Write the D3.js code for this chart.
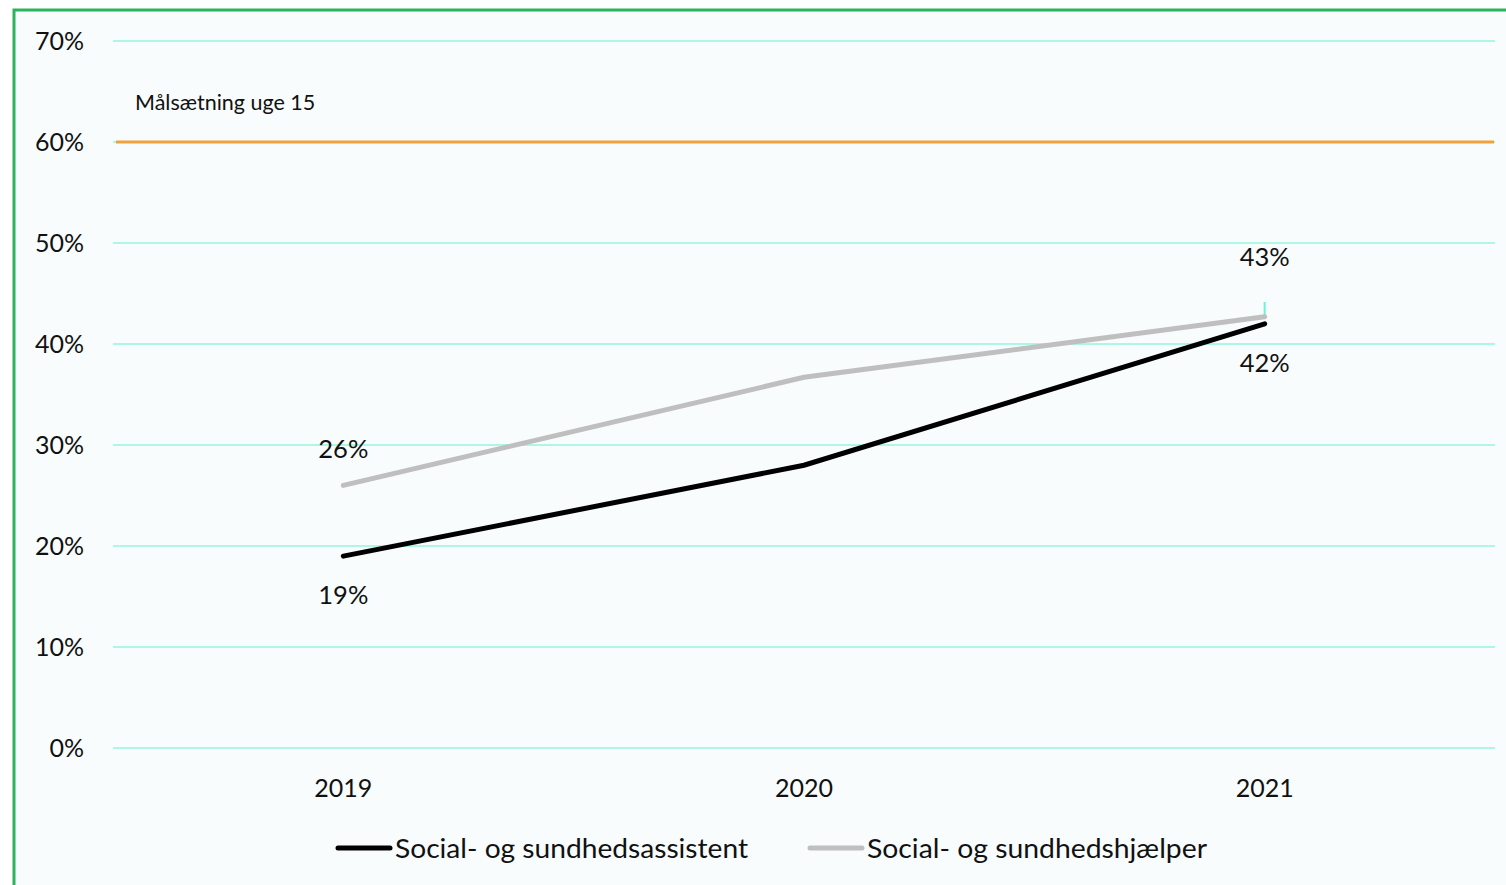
<!DOCTYPE html>
<meta charset="utf-8">
<head>
<style>
body { margin: 0; background: #fff; }
svg text { font-family: "Source Sans Pro", Lato, "Noto Sans", sans-serif; fill: #111; }
.grid line { stroke: #aef7e4; stroke-width: 2; }
</style>
</head>
<body>
<script src="https://cdn.jsdelivr.net/npm/d3@7"></script>
<script>

var years = ["2019", "2020", "2021"];
var assistent = [19, 28, 42];
var hjaelper = [26, 36.7, 42.7];
var yTicks = [0, 10, 20, 30, 40, 50, 60, 70];
var target = 60;
var seriesNames = ["Social- og sundhedsassistent", "Social- og sundhedshjælper"];

var width = 1506, height = 885;

var svg = d3.select("body").append("svg")
    .attr("width", width)
    .attr("height", height);

// panel background + green frame (top and left)
svg.append("rect")
    .attr("x", 13).attr("y", 9)
    .attr("width", width - 13).attr("height", height - 9)
    .attr("fill", "#f8fcfd");
svg.append("path")
    .attr("d", "M14," + height + "V10H" + width)
    .attr("fill", "none")
    .attr("stroke", "#2db35d")
    .attr("stroke-width", 3);

var x = d3.scalePoint()
    .domain(years)
    .range([113, 1495])
    .padding(0.5);

var y = d3.scaleLinear()
    .domain([0, 70])
    .range([748, 41]);

var grid = svg.append("g").attr("class", "grid");
grid.selectAll("line")
    .data(yTicks)
    .enter().append("line")
    .attr("x1", 113).attr("x2", 1495)
    .attr("y1", function(d) { return y(d); })
    .attr("y2", function(d) { return y(d); });

svg.append("g").selectAll("text")
    .data(yTicks)
    .enter().append("text")
    .attr("x", 84)
    .attr("y", function(d) { return y(d); })
    .attr("dy", ".35em")
    .attr("text-anchor", "end")
    .style("font-size", "25px")
    .text(function(d) { return d + "%"; });

svg.append("g").selectAll("text")
    .data(years)
    .enter().append("text")
    .attr("x", function(d) { return x(d); })
    .attr("y", 788)
    .attr("dy", ".35em")
    .attr("text-anchor", "middle")
    .style("font-size", "25px")
    .text(function(d) { return d; });

// target line
svg.append("line")
    .attr("x1", 116).attr("x2", 1494)
    .attr("y1", y(target)).attr("y2", y(target))
    .attr("stroke", "#f0a03c")
    .attr("stroke-width", 3);
svg.append("text")
    .attr("x", 135).attr("y", 102)
    .attr("dy", ".35em")
    .style("font-size", "21.5px")
    .text("Målsætning uge 15");

// small leader tick at last label
svg.append("line")
    .attr("x1", x("2021")).attr("x2", x("2021"))
    .attr("y1", 302).attr("y2", y(hjaelper[2]))
    .attr("stroke", "#6ff0d8")
    .attr("stroke-width", 2);

var line = d3.line()
    .x(function(d, i) { return x(years[i]); })
    .y(function(d) { return y(d); });

svg.append("path")
    .datum(hjaelper)
    .attr("d", line)
    .attr("fill", "none")
    .attr("stroke", "#bfbfbf")
    .attr("stroke-width", 5)
    .attr("stroke-linecap", "round");

svg.append("path")
    .datum(assistent)
    .attr("d", line)
    .attr("fill", "none")
    .attr("stroke", "#000")
    .attr("stroke-width", 5)
    .attr("stroke-linecap", "round");

// value labels (first and last points only)
var labels = [
  {i: 0, v: hjaelper[0], dy: -36},
  {i: 0, v: assistent[0], dy: 39},
  {i: 2, v: hjaelper[2], dy: -60},
  {i: 2, v: assistent[2], dy: 39}
];
svg.append("g").selectAll("text")
    .data(labels)
    .enter().append("text")
    .attr("x", function(d) { return x(years[d.i]); })
    .attr("y", function(d) { return y(d.v) + d.dy; })
    .attr("dy", ".35em")
    .attr("text-anchor", "middle")
    .style("font-size", "25.5px")
    .text(function(d) { return Math.round(d.v) + "%"; });

// legend
var legendX = [338, 810];
var legendColors = ["#000", "#bfbfbf"];
var legend = svg.append("g").selectAll("g")
    .data(seriesNames)
    .enter().append("g")
    .attr("transform", function(d, i) { return "translate(" + legendX[i] + ",848)"; });
legend.append("line")
    .attr("x1", 0).attr("x2", 52)
    .attr("stroke", function(d, i) { return legendColors[i]; })
    .attr("stroke-width", 5)
    .attr("stroke-linecap", "round");
legend.append("text")
    .attr("x", 57)
    .attr("dy", ".35em")
    .style("font-size", "27.5px")
    .attr("textLength", function(d, i) { return i === 0 ? 353 : 340; })
    .attr("lengthAdjust", "spacingAndGlyphs")
    .text(function(d) { return d; });

</script>
</body>
